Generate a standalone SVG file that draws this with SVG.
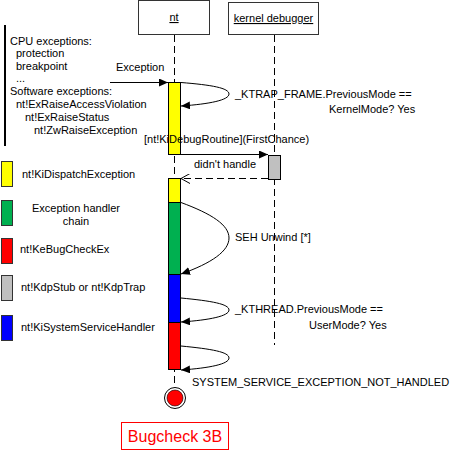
<svg xmlns="http://www.w3.org/2000/svg" width="450" height="450" viewBox="0 0 450 450">
<style>
text{font-family:"Liberation Sans",Arial,sans-serif;font-size:11px;fill:#000}
.life{stroke:#000;stroke-width:1;stroke-dasharray:7,4;fill:none}
.act{stroke:#000;stroke-width:1}
.msg{stroke:#000;stroke-width:1;fill:none}
.leg{stroke:#333;stroke-width:1}
</style>
<defs>
<marker id="ah" markerWidth="10" markerHeight="8" refX="9" refY="4" orient="auto" markerUnits="userSpaceOnUse">
<path d="M0,0 L9,4 L0,8 z" fill="#000"/>
</marker>
<marker id="oh" markerWidth="10" markerHeight="10" refX="9" refY="5" orient="auto" markerUnits="userSpaceOnUse">
<path d="M0,0 L9,5 L0,10" fill="none" stroke="#000"/>
</marker>
</defs>
<rect width="450" height="450" fill="#fff"/>

<g id="note">
<line x1="5" y1="25" x2="5" y2="146" stroke="#000" stroke-width="2"/>
<text x="10" y="45">CPU exceptions:</text>
<text x="16" y="57">protection</text>
<text x="16" y="70">breakpoint</text>
<text x="16" y="82">...</text>
<text x="10" y="95">Software exceptions:</text>
<text x="16" y="108">nt!ExRaiseAccessViolation</text>
<text x="25" y="121">nt!ExRaiseStatus</text>
<text x="34" y="134">nt!ZwRaiseException</text>
</g>

<g id="nt">
<rect x="138.500" y="0.500" width="71" height="34" fill="#fff" stroke="#333"/>
<text x="174" y="21" text-anchor="middle" text-decoration="underline">nt</text>
<line class="life" x1="174.500" y1="35" x2="174.500" y2="385"/>
</g>

<g id="kd">
<rect x="228.500" y="2.500" width="90" height="32" fill="#fff" stroke="#333"/>
<text x="273.500" y="22" text-anchor="middle" text-decoration="underline">kernel debugger</text>
<line class="life" x1="274.500" y1="35" x2="274.500" y2="345"/>
</g>

<g id="activations">
<rect class="act" x="168.500" y="82.500" width="12" height="72" fill="#ffff00"/>
<rect class="act" x="268.500" y="155.500" width="12" height="24" fill="#c0c0c0"/>
<rect class="act" x="168.500" y="178.500" width="12" height="24" fill="#ffff00"/>
<rect class="act" x="168.500" y="202.500" width="12" height="72" fill="#00b050"/>
<rect class="act" x="168.500" y="274.500" width="12" height="48" fill="#0000ff"/>
<rect class="act" x="168.500" y="322.500" width="12" height="47" fill="#ff0000"/>
</g>

<g id="connectors">
<line class="msg" x1="110" y1="82.500" x2="168" y2="82.500" marker-end="url(#ah)"/>
<path class="msg" d="M181,82.500 C212,85 229,88 229,94 C229,100 210,104 181,106" marker-end="url(#ah)"/>
<line class="msg" x1="181" y1="154.500" x2="268" y2="154.500" marker-end="url(#ah)"/>
<line class="msg" x1="268" y1="178.500" x2="181" y2="178.500" stroke-dasharray="7,4" marker-end="url(#oh)"/>
<path class="msg" d="M181,202.500 C212,214 229,225 229,238 C229,251 212,263 181,274" marker-end="url(#ah)"/>
<path class="msg" d="M181,298 C212,301 229,304 229,310 C229,316 210,320 181,322" marker-end="url(#ah)"/>
<path class="msg" d="M181,346 C212,349 229,352 229,358 C229,364 210,368 181,370" marker-end="url(#ah)"/>
</g>

<g id="labels">
<text x="116" y="71">Exception</text>
<text x="235" y="98">_KTRAP_FRAME.PreviousMode ==</text>
<text x="329" y="113">KernelMode? Yes</text>
<text x="144" y="143">[nt!KiDebugRoutine](FirstChance)</text>
<text x="194" y="168">didn't handle</text>
<text x="235" y="241">SEH Unwind [*]</text>
<text x="235" y="313">_KTHREAD.PreviousMode ==</text>
<text x="309" y="329">UserMode? Yes</text>
<text x="192" y="386">SYSTEM_SERVICE_EXCEPTION_NOT_HANDLED</text>
</g>

<g id="final">
<circle cx="175" cy="398" r="10.500" fill="#fff" stroke="#000"/>
<circle cx="175" cy="398" r="8" fill="#ff0000" stroke="#000" stroke-width="0.600"/>
</g>

<g id="bugcheck">
<rect x="121.500" y="422.500" width="107" height="27" fill="#fff" stroke="#ff0000"/>
<text x="175" y="442" text-anchor="middle" style="font-size:16px;fill:#ff0000">Bugcheck 3B</text>
</g>

<g id="legend">
<rect class="leg" x="1.500" y="161.500" width="11" height="25" fill="#ffff00"/>
<text x="22" y="178">nt!KiDispatchException</text>
<rect class="leg" x="1.500" y="200.500" width="11" height="25" fill="#00b050"/>
<text x="76" y="212" text-anchor="middle">Exception handler</text>
<text x="76" y="225" text-anchor="middle">chain</text>
<rect class="leg" x="1.500" y="238.500" width="11" height="25" fill="#ff0000"/>
<text x="20" y="253">nt!KeBugCheckEx</text>
<rect class="leg" x="1.500" y="275.500" width="11" height="25" fill="#c0c0c0"/>
<text x="21" y="291">nt!KdpStub or nt!KdpTrap</text>
<rect class="leg" x="1.500" y="315.500" width="11" height="25" fill="#0000ff"/>
<text x="21" y="331">nt!KiSystemServiceHandler</text>
</g>
</svg>
